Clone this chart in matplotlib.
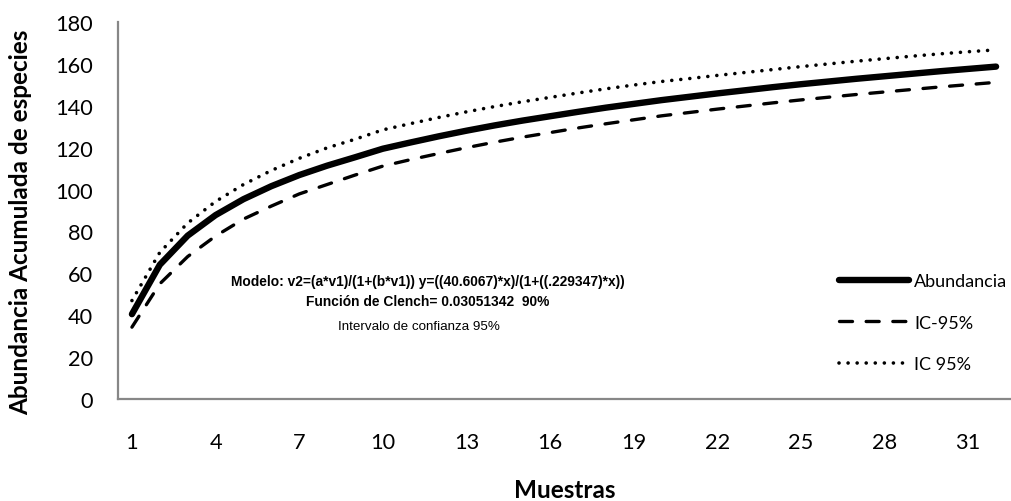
import numpy as np
import matplotlib
matplotlib.use("Agg")
import matplotlib.pyplot as plt

# datos (muestras 1..32)
muestras = list(range(1, 33))
abundancia = [40.5, 64.1, 78.0, 87.8, 95.4, 101.6, 106.9, 111.4, 115.4, 119.5,
              122.5, 125.4, 128.1, 130.6, 132.9, 135.0, 137.1, 139.1, 140.9, 142.7,
              144.3, 145.9, 147.4, 148.9, 150.3, 151.6, 152.9, 154.1, 155.3, 156.5,
              157.6, 158.7]
ic_menos = [34.3, 55.0, 68.0, 77.8, 85.9, 92.1, 97.9, 102.4, 106.9, 111.2,
            114.3, 117.2, 120.0, 122.6, 125.0, 127.2, 129.4, 131.4, 133.3, 135.2,
            136.8, 138.4, 139.9, 141.4, 142.8, 144.1, 145.4, 146.6, 147.8, 149.0,
            150.1, 151.2]
ic_mas = [47.0, 70.0, 84.0, 94.3, 102.4, 109.1, 114.9, 119.9, 124.0, 128.5,
          131.5, 134.4, 137.1, 139.6, 141.9, 144.0, 146.1, 148.1, 149.9, 151.6,
          153.0, 154.5, 155.9, 157.3, 158.7, 160.0, 161.3, 162.5, 163.7, 164.8,
          165.8, 166.7]

etiquetas_y = [0, 20, 40, 60, 80, 100, 120, 140, 160, 180]
etiquetas_x = [1, 4, 7, 10, 13, 16, 19, 22, 25, 28, 31]

fuente = "Lato"
W, H = 1012, 502
fig = plt.figure(figsize=(W / 100, H / 100), dpi=100)
ax = fig.add_axes([118 / W, 1 - 400 / H, (1010 - 118) / W, (400 - 23) / H])

l1, = ax.plot(muestras, abundancia, color="black", lw=4.6,
              solid_capstyle="round", solid_joinstyle="round", label="Abundancia")
l2, = ax.plot(muestras, ic_menos, color="black", lw=2.4, dashes=(3.9, 4.1),
              dash_capstyle="round", label="IC-95%")
l3, = ax.plot(muestras, ic_mas, color="black", lw=2.6, dashes=(0.01, 2.5),
              dash_capstyle="round", label="IC 95%")

ax.set_xlim(0.5, 32.5)
ax.set_ylim(0, 180)
ax.set_yticks(etiquetas_y)
ax.set_xticks(etiquetas_x)
ax.tick_params(length=0)
ax.tick_params(axis="y", pad=18)
ax.tick_params(axis="x", pad=24)
for lab in ax.get_xticklabels() + ax.get_yticklabels():
    lab.set_fontfamily(fuente)
    lab.set_fontsize(15.7)

for s in ["top", "right"]:
    ax.spines[s].set_visible(False)
for s in ["left", "bottom"]:
    ax.spines[s].set_color("#878787")
    ax.spines[s].set_linewidth(1.6)

fig.text(21 / W, 1 - 222 / H, "Abundancia Acumulada de especies", rotation=90,
         ha="center", va="center", fontsize=17.5, fontweight="bold", family=fuente)
fig.text(565 / W, 1 - 491 / H, "Muestras", ha="center", va="center",
         fontsize=17.5, fontweight="bold", family=fuente)

fig.text(428 / W, 1 - 282 / H,
         "Modelo: v2=(a*v1)/(1+(b*v1)) y=((40.6067)*x)/(1+((.229347)*x))",
         ha="center", va="center", fontsize=9.9, fontweight="bold",
         family="Liberation Sans")
fig.text(428 / W, 1 - 302 / H, "Función de Clench= 0.03051342  90%",
         ha="center", va="center", fontsize=9.9, fontweight="bold",
         family="Liberation Sans")
fig.text(419 / W, 1 - 327 / H, "Intervalo de confianza 95%",
         ha="center", va="center", fontsize=9.6, family="Liberation Sans")

leg = ax.legend(handles=[l1, l2, l3], loc="upper left",
                bbox_to_anchor=(830 / W, 1 - 265 / H), bbox_transform=fig.transFigure,
                frameon=False, prop={"family": fuente, "size": 13},
                handlelength=3.9, handletextpad=0.25, labelspacing=1.42,
                borderpad=0)

fig.savefig("out.png", dpi=100)
